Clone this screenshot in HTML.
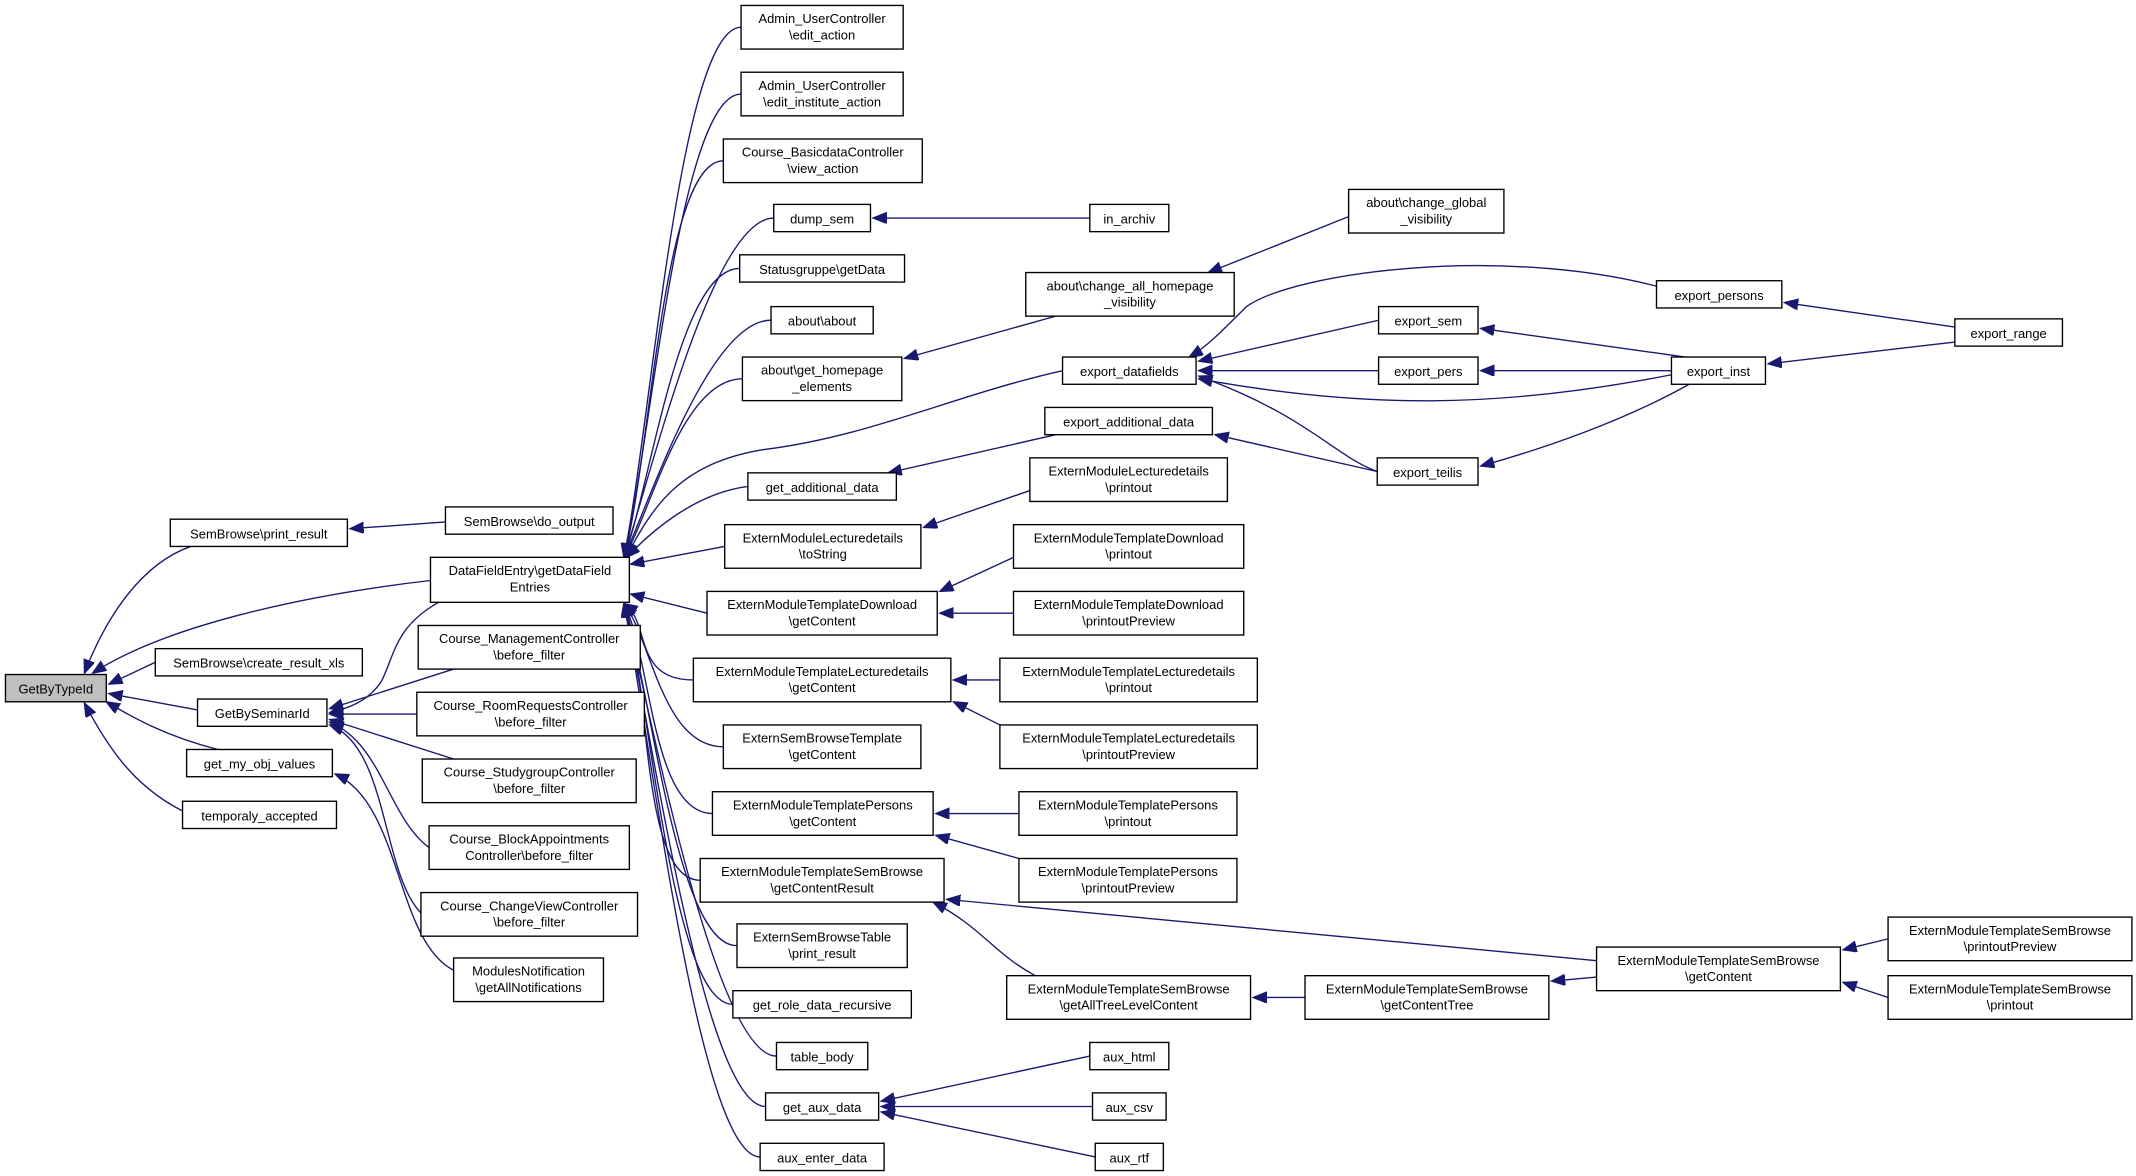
<!DOCTYPE html>
<html><head><meta charset="utf-8"><style>html,body{margin:0;padding:0;background:#fff}svg{display:block}</style></head>
<body>
<svg xmlns="http://www.w3.org/2000/svg" width="2136" height="1176" viewBox="0 0 1568 863" preserveAspectRatio="none">
<defs><marker id="a" markerUnits="userSpaceOnUse" markerWidth="11" markerHeight="9" refX="10" refY="4" orient="auto"><path d="M0,0 L10,4 L0,8 z" fill="#191970" stroke="#191970"/></marker></defs>
<g fill="none" stroke="#191970" stroke-width="1" marker-end="url(#a)">
<path d="M140,401 C100,415 75,460 62,494"/>
<path d="M316,426 C220,437 120,460 68,494"/>
<path d="M114,486 L80,502"/>
<path d="M145,521 L80,509"/>
<path d="M160,550 C120,540 95,525 78,515"/>
<path d="M140,598 C100,580 80,550 62,516"/>
<path d="M327,383 L257,388"/>
<path d="M322,442 C290,460 290,480 280,500 C270,515 255,520 242,523"/>
<path d="M333,491 L242,520"/>
<path d="M306,524 L242,524"/>
<path d="M333,557 L242,528"/>
<path d="M315,622 C285,600 280,545 242,530"/>
<path d="M309,670 C280,640 285,548 242,532"/>
<path d="M333,712 C290,690 295,590 246,568"/>
<path d="M544,20 C499,20 478,312 458,409"/>
<path d="M544,69 C499,69 478,324 458,409"/>
<path d="M531,118 C486,118 478,336 458,409"/>
<path d="M568,160 C523,160 478,348 458,409"/>
<path d="M543,197 C498,197 478,356 458,409"/>
<path d="M566,235 C521,235 478,365 458,409"/>
<path d="M545,278 C500,278 478,376 458,409"/>
<path d="M549,357 C510,362 478,390 460,409"/>
<path d="M532,401 L463,414"/>
<path d="M519,450 L463,436"/>
<path d="M509,499 C464,499 478,456 458,443"/>
<path d="M531,548 C486,548 478,468 458,443"/>
<path d="M523,597 C478,597 478,480 458,443"/>
<path d="M514,646 C469,646 478,493 458,443"/>
<path d="M541,694 C496,694 478,505 458,443"/>
<path d="M538,737 C493,737 478,516 458,443"/>
<path d="M570,775 C525,775 478,525 458,443"/>
<path d="M562,812 C517,812 478,535 458,443"/>
<path d="M558,849 C513,849 478,544 458,443"/>
<path d="M780,272 C700,290 640,320 560,330 C500,340 480,370 460,408"/>
<path d="M800,160 L641,160"/>
<path d="M775,232 L664,263"/>
<path d="M990,159 L887,200"/>
<path d="M775,319 L652,347"/>
<path d="M1011,346 L892,319"/>
<path d="M1216,210 C1100,180 950,200 915,225 C895,245 885,255 873,262"/>
<path d="M1012,235 L880,265"/>
<path d="M1012,272 L880,272"/>
<path d="M1227,275 C1100,300 1000,300 880,278"/>
<path d="M1011,346 C980,335 960,305 880,276"/>
<path d="M1237,262 L1087,241"/>
<path d="M1227,272 L1087,272"/>
<path d="M1240,282 C1190,310 1130,330 1087,342"/>
<path d="M1435,240 L1310,222"/>
<path d="M1435,251 L1298,267"/>
<path d="M756,360 L678,387"/>
<path d="M744,409 L690,434"/>
<path d="M744,450 L690,450"/>
<path d="M734,499 L700,499"/>
<path d="M734,532 L700,515"/>
<path d="M748,597 L687,597"/>
<path d="M748,630 L687,613"/>
<path d="M760,716 C730,700 720,680 685,662"/>
<path d="M1172,705 L695,660"/>
<path d="M958,732 L920,732"/>
<path d="M1172,717 L1139,720"/>
<path d="M1386,689 L1353,697"/>
<path d="M1386,732 L1353,721"/>
<path d="M800,775 L647,808"/>
<path d="M802,812 L647,812"/>
<path d="M804,849 L647,816"/>
</g>
<g stroke="#000" stroke-width="1" fill="#fff">
<rect x="4" y="495" width="74" height="20" fill="#bfbfbf"/>
<rect x="125" y="381" width="130" height="20"/>
<rect x="327" y="372" width="123" height="20"/>
<rect x="316" y="409" width="146" height="33"/>
<rect x="114" y="476" width="152" height="20"/>
<rect x="145" y="513" width="95" height="20"/>
<rect x="137" y="550" width="107" height="20"/>
<rect x="134" y="588" width="113" height="20"/>
<rect x="307" y="459" width="163" height="32"/>
<rect x="306" y="508" width="167" height="32"/>
<rect x="310" y="557" width="157" height="32"/>
<rect x="315" y="606" width="147" height="32"/>
<rect x="309" y="655" width="159" height="32"/>
<rect x="333" y="703" width="110" height="32"/>
<rect x="544" y="4" width="119" height="32"/>
<rect x="544" y="53" width="119" height="32"/>
<rect x="531" y="102" width="146" height="32"/>
<rect x="568" y="150" width="71" height="20"/>
<rect x="543" y="187" width="121" height="20"/>
<rect x="566" y="225" width="75" height="20"/>
<rect x="545" y="262" width="117" height="32"/>
<rect x="549" y="347" width="109" height="20"/>
<rect x="532" y="385" width="144" height="32"/>
<rect x="519" y="434" width="169" height="32"/>
<rect x="509" y="483" width="189" height="32"/>
<rect x="531" y="532" width="145" height="32"/>
<rect x="523" y="581" width="162" height="32"/>
<rect x="514" y="630" width="179" height="32"/>
<rect x="541" y="678" width="125" height="32"/>
<rect x="538" y="727" width="131" height="20"/>
<rect x="570" y="765" width="67" height="20"/>
<rect x="562" y="802" width="83" height="20"/>
<rect x="558" y="839" width="91" height="20"/>
<rect x="800" y="150" width="58" height="20"/>
<rect x="753" y="200" width="153" height="32"/>
<rect x="780" y="262" width="98" height="20"/>
<rect x="767" y="299" width="123" height="20"/>
<rect x="756" y="336" width="145" height="32"/>
<rect x="744" y="385" width="169" height="32"/>
<rect x="744" y="434" width="169" height="32"/>
<rect x="734" y="483" width="189" height="32"/>
<rect x="734" y="532" width="189" height="32"/>
<rect x="748" y="581" width="160" height="32"/>
<rect x="748" y="630" width="160" height="32"/>
<rect x="739" y="716" width="179" height="32"/>
<rect x="800" y="765" width="58" height="20"/>
<rect x="802" y="802" width="54" height="20"/>
<rect x="804" y="839" width="50" height="20"/>
<rect x="990" y="139" width="114" height="32"/>
<rect x="1216" y="206" width="92" height="20"/>
<rect x="1012" y="225" width="73" height="20"/>
<rect x="1012" y="262" width="73" height="20"/>
<rect x="1011" y="336" width="74" height="20"/>
<rect x="1227" y="262" width="69" height="20"/>
<rect x="958" y="716" width="179" height="32"/>
<rect x="1172" y="695" width="179" height="32"/>
<rect x="1435" y="234" width="79" height="20"/>
<rect x="1386" y="673" width="179" height="32"/>
<rect x="1386" y="716" width="179" height="32"/>
</g>
<g font-family="Liberation Sans, DejaVu Sans, sans-serif" font-size="9.5" fill="#000" text-anchor="middle">
<text x="41" y="509">GetByTypeId</text>
<text x="190" y="395">SemBrowse\print_result</text>
<text x="388.5" y="386">SemBrowse\do_output</text>
<text x="389" y="422">DataFieldEntry\getDataField</text><text x="389" y="434">Entries</text>
<text x="190" y="490">SemBrowse\create_result_xls</text>
<text x="192.5" y="527">GetBySeminarId</text>
<text x="190.5" y="564">get_my_obj_values</text>
<text x="190.5" y="602">temporaly_accepted</text>
<text x="388.5" y="472">Course_ManagementController</text><text x="388.5" y="484">\before_filter</text>
<text x="389.5" y="521">Course_RoomRequestsController</text><text x="389.5" y="533">\before_filter</text>
<text x="388.5" y="570">Course_StudygroupController</text><text x="388.5" y="582">\before_filter</text>
<text x="388.5" y="619">Course_BlockAppointments</text><text x="388.5" y="631">Controller\before_filter</text>
<text x="388.5" y="668">Course_ChangeViewController</text><text x="388.5" y="680">\before_filter</text>
<text x="388" y="716">ModulesNotification</text><text x="388" y="728">\getAllNotifications</text>
<text x="603.5" y="17">Admin_UserController</text><text x="603.5" y="29">\edit_action</text>
<text x="603.5" y="66">Admin_UserController</text><text x="603.5" y="78">\edit_institute_action</text>
<text x="604" y="115">Course_BasicdataController</text><text x="604" y="127">\view_action</text>
<text x="603.5" y="164">dump_sem</text>
<text x="603.5" y="201">Statusgruppe\getData</text>
<text x="603.5" y="239">about\about</text>
<text x="603.5" y="275">about\get_homepage</text><text x="603.5" y="287">_elements</text>
<text x="603.5" y="361">get_additional_data</text>
<text x="604" y="398">ExternModuleLecturedetails</text><text x="604" y="410">\toString</text>
<text x="603.5" y="447">ExternModuleTemplateDownload</text><text x="603.5" y="459">\getContent</text>
<text x="603.5" y="496">ExternModuleTemplateLecturedetails</text><text x="603.5" y="508">\getContent</text>
<text x="603.5" y="545">ExternSemBrowseTemplate</text><text x="603.5" y="557">\getContent</text>
<text x="604" y="594">ExternModuleTemplatePersons</text><text x="604" y="606">\getContent</text>
<text x="603.5" y="643">ExternModuleTemplateSemBrowse</text><text x="603.5" y="655">\getContentResult</text>
<text x="603.5" y="691">ExternSemBrowseTable</text><text x="603.5" y="703">\print_result</text>
<text x="603.5" y="741">get_role_data_recursive</text>
<text x="603.5" y="779">table_body</text>
<text x="603.5" y="816">get_aux_data</text>
<text x="603.5" y="853">aux_enter_data</text>
<text x="829" y="164">in_archiv</text>
<text x="829.5" y="213">about\change_all_homepage</text><text x="829.5" y="225">_visibility</text>
<text x="829" y="276">export_datafields</text>
<text x="828.5" y="313">export_additional_data</text>
<text x="828.5" y="349">ExternModuleLecturedetails</text><text x="828.5" y="361">\printout</text>
<text x="828.5" y="398">ExternModuleTemplateDownload</text><text x="828.5" y="410">\printout</text>
<text x="828.5" y="447">ExternModuleTemplateDownload</text><text x="828.5" y="459">\printoutPreview</text>
<text x="828.5" y="496">ExternModuleTemplateLecturedetails</text><text x="828.5" y="508">\printout</text>
<text x="828.5" y="545">ExternModuleTemplateLecturedetails</text><text x="828.5" y="557">\printoutPreview</text>
<text x="828" y="594">ExternModuleTemplatePersons</text><text x="828" y="606">\printout</text>
<text x="828" y="643">ExternModuleTemplatePersons</text><text x="828" y="655">\printoutPreview</text>
<text x="828.5" y="729">ExternModuleTemplateSemBrowse</text><text x="828.5" y="741">\getAllTreeLevelContent</text>
<text x="829" y="779">aux_html</text>
<text x="829" y="816">aux_csv</text>
<text x="829" y="853">aux_rtf</text>
<text x="1047" y="152">about\change_global</text><text x="1047" y="164">_visibility</text>
<text x="1262" y="220">export_persons</text>
<text x="1048.5" y="239">export_sem</text>
<text x="1048.5" y="276">export_pers</text>
<text x="1048" y="350">export_teilis</text>
<text x="1261.5" y="276">export_inst</text>
<text x="1047.5" y="729">ExternModuleTemplateSemBrowse</text><text x="1047.5" y="741">\getContentTree</text>
<text x="1261.5" y="708">ExternModuleTemplateSemBrowse</text><text x="1261.5" y="720">\getContent</text>
<text x="1474.5" y="248">export_range</text>
<text x="1475.5" y="686">ExternModuleTemplateSemBrowse</text><text x="1475.5" y="698">\printoutPreview</text>
<text x="1475.5" y="729">ExternModuleTemplateSemBrowse</text><text x="1475.5" y="741">\printout</text>
</g>
</svg>
</body></html>
